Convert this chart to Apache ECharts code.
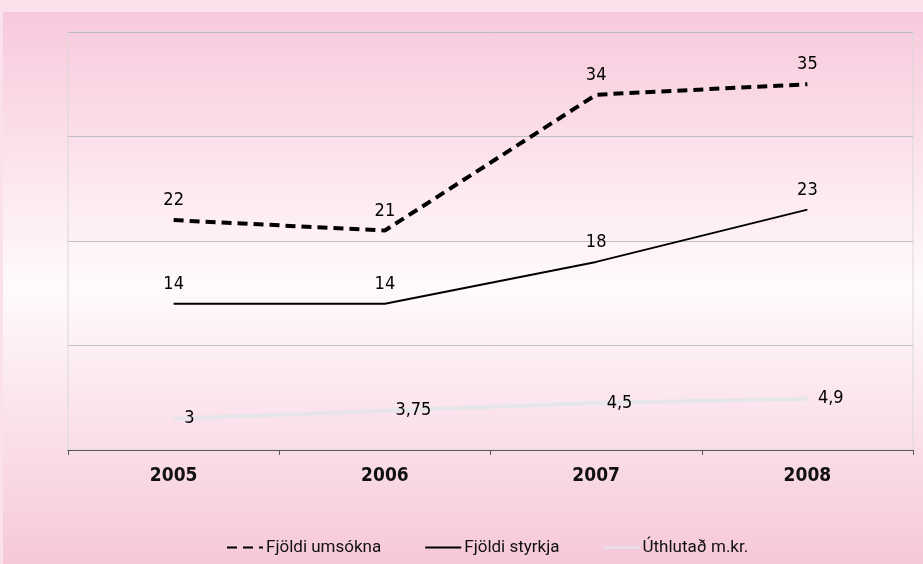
<!DOCTYPE html>
<html><head><meta charset="utf-8">
<script src="https://cdn.jsdelivr.net/npm/echarts@6/dist/echarts.min.js"></script>
<style>html,body{margin:0;padding:0;}#c{width:923px;height:564px;}</style>
</head><body><div id="c"></div>
<script>
const years = ['2005', '2006', '2007', '2008'];
const umsoknir = [22, 21, 34, 35];
const styrkir = [14, 14, 18, 23];
const uthlutad = [3, 3.75, 4.5, 4.9];
const seriesNames = ['Fjöldi umsókna', 'Fjöldi styrkja', 'Úthlutað m.kr.'];

const numFont = "'Liberation Sans Narrow', 'DejaVu Sans Condensed', Roboto, sans-serif";
const legFont = "Roboto, sans-serif";
const fmt = p => String(p.value).replace('.', ',');
const lbl = (pos, dist) => ({show: true, position: pos, distance: dist, formatter: fmt, fontFamily: numFont, fontSize: 18, fontWeight: 'normal', color: '#000'});
const hidden = {color: 'rgba(0,0,0,0)'};
const chart = echarts.init(document.getElementById('c'), null, {renderer: 'canvas'});
chart.setOption({
  backgroundColor: '#fbe1eb',
  graphic: [{
    type: 'rect', z: -10, silent: true,
    shape: {x: 3, y: 12, width: 920, height: 552},
    style: {fill: new echarts.graphic.LinearGradient(0, 0, 0, 1, [
      {offset: 0, color: '#f8c9dc'},
      {offset: 0.5, color: '#fffafc'},
      {offset: 1, color: '#f6c8da'}
    ])}
  }],
  grid: {left: 68, right: 10, top: 32, bottom: 114, show: true, borderColor: '#d9d9d9', borderWidth: 1},
  legend: {
    left: 221, top: 534, itemGap: 43, itemWidth: 36, itemHeight: 4,
    textStyle: {fontFamily: legFont, fontSize: 17, color: '#111', padding: [0, 0, 0, -2]},
    data: seriesNames
  },
  xAxis: {
    type: 'category', data: years, boundaryGap: true,
    axisLine: {lineStyle: {color: '#595959', width: 1}},
    axisTick: {show: true, length: 5, lineStyle: {color: '#595959'}},
    axisLabel: {fontFamily: numFont, fontSize: 19, fontWeight: 'bold', color: '#111', margin: 17}
  },
  yAxis: {
    type: 'value', min: 0, max: 40, interval: 10,
    axisLabel: {show: false}, axisLine: {show: false}, axisTick: {show: false},
    splitLine: {lineStyle: {color: '#bdbdc2', width: 1}}
  },
  series: [
    {
      name: seriesNames[0], type: 'line', data: umsoknir, symbol: 'circle', symbolSize: 1, showSymbol: true,
      lineStyle: {color: '#000', width: 4, type: [10, 6]},
      itemStyle: hidden,
      label: lbl('top', 10)
    },
    {
      name: seriesNames[1], type: 'line', data: styrkir, symbol: 'circle', symbolSize: 1, showSymbol: true,
      lineStyle: {color: '#000', width: 2},
      itemStyle: hidden,
      label: lbl('top', 10)
    },
    {
      name: seriesNames[2], type: 'line', data: uthlutad, symbol: 'circle', symbolSize: 1, showSymbol: true,
      lineStyle: {color: '#e6e6ea', width: 4},
      itemStyle: hidden,
      label: lbl('right', 10)
    }
  ]
});
</script></body></html>
